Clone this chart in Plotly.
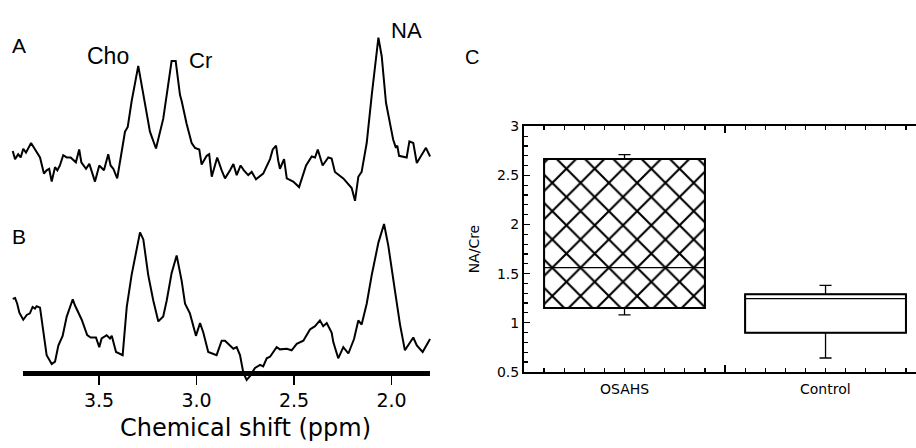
import plotly.graph_objects as go

# ---------------- data ----------------
# Spectrum A: chemical shift (ppm) and intensity (arbitrary units)
ppm_a = [3.944, 3.932, 3.916, 3.903, 3.890, 3.876, 3.850, 3.830, 3.804, 3.784,
         3.770, 3.757, 3.744, 3.727, 3.715, 3.702, 3.685, 3.667, 3.647, 3.620,
         3.603, 3.592, 3.568, 3.551, 3.522, 3.500, 3.476, 3.454, 3.442, 3.428,
         3.421, 3.408, 3.390, 3.368, 3.354, 3.334, 3.300, 3.266, 3.240, 3.209,
         3.172, 3.154, 3.129, 3.108, 3.086, 3.077, 3.052, 3.026, 3.009, 2.987,
         2.975, 2.949, 2.936, 2.923, 2.895, 2.872, 2.855, 2.829, 2.812, 2.795,
         2.775, 2.758, 2.736, 2.718, 2.696, 2.659, 2.624, 2.610, 2.593, 2.582,
         2.573, 2.552, 2.538, 2.505, 2.475, 2.439, 2.410, 2.393, 2.379, 2.354,
         2.325, 2.308, 2.291, 2.248, 2.205, 2.188, 2.171, 2.154, 2.128, 2.102,
         2.068, 2.051, 2.029, 2.005, 1.992, 1.978, 1.971, 1.962, 1.923, 1.909,
         1.889, 1.871, 1.846, 1.824, 1.803]
int_a = [61.7, 53.3, 58.3, 55.0, 64.0, 60.0, 70.0, 63.3, 55.0, 38.3,
         41.7, 43.3, 30.0, 45.0, 41.7, 46.7, 57.3, 55.0, 55.0, 50.0,
         63.3, 50.0, 43.3, 48.3, 30.0, 46.7, 41.7, 58.3, 46.7, 43.3,
         40.0, 33.3, 55.0, 81.7, 86.7, 113.3, 150.0, 113.3, 81.7, 64.3,
         95.0, 120.0, 155.0, 155.0, 120.0, 113.3, 90.0, 70.0, 65.0, 63.3,
         47.7, 56.7, 58.3, 35.0, 55.0, 41.7, 33.3, 41.7, 48.3, 36.7,
         46.7, 41.7, 36.7, 40.0, 32.3, 38.3, 53.3, 63.3, 67.3, 51.7,
         43.3, 53.3, 33.3, 30.0, 24.3, 46.7, 56.0, 55.0, 63.3, 46.7,
         55.0, 54.0, 40.0, 33.3, 23.3, 10.0, 35.0, 40.0, 70.0, 120.0,
         179.3, 160.0, 111.7, 86.7, 73.3, 65.0, 67.3, 56.7, 55.0, 71.7,
         70.0, 49.3, 58.3, 65.0, 56.0]

# Spectrum B
ppm_b = [3.944, 3.932, 3.921, 3.910, 3.890, 3.872, 3.856, 3.842, 3.830, 3.821,
         3.804, 3.787, 3.770, 3.744, 3.727, 3.710, 3.688, 3.667, 3.636, 3.625,
         3.590, 3.562, 3.544, 3.517, 3.500, 3.488, 3.462, 3.445, 3.436, 3.414,
         3.394, 3.380, 3.359, 3.334, 3.291, 3.274, 3.249, 3.223, 3.197, 3.172,
         3.154, 3.129, 3.103, 3.077, 3.060, 3.035, 3.004, 2.983, 2.966, 2.941,
         2.898, 2.872, 2.855, 2.812, 2.795, 2.778, 2.761, 2.744, 2.727, 2.701,
         2.675, 2.659, 2.641, 2.624, 2.590, 2.573, 2.538, 2.513, 2.487, 2.453,
         2.419, 2.393, 2.368, 2.351, 2.333, 2.308, 2.299, 2.274, 2.248, 2.222,
         2.193, 2.171, 2.154, 2.128, 2.102, 2.068, 2.039, 2.017, 1.983, 1.957,
         1.932, 1.909, 1.889, 1.871, 1.841, 1.803]
int_b = [88.3, 89.3, 83.3, 74.0, 66.7, 71.7, 73.3, 80.0, 78.3, 80.7,
         79.3, 53.3, 30.0, 20.7, 23.3, 40.0, 50.0, 70.0, 88.0, 81.7,
         66.7, 50.7, 48.3, 48.3, 38.3, 47.3, 50.7, 47.3, 50.0, 33.3,
         31.7, 30.0, 80.0, 113.3, 157.3, 150.0, 113.3, 86.7, 65.0, 70.0,
         86.7, 115.0, 133.3, 106.7, 83.3, 73.3, 50.0, 63.3, 53.3, 33.3,
         30.0, 45.0, 45.0, 36.7, 38.3, 30.0, 11.7, 4.3, 8.3, 16.7,
         20.0, 18.3, 26.7, 28.3, 38.3, 36.0, 36.7, 35.0, 41.7, 45.0,
         56.7, 60.0, 66.0, 60.0, 63.3, 53.3, 43.3, 26.7, 38.3, 31.7,
         46.7, 66.0, 61.7, 83.3, 113.3, 146.7, 166.0, 143.3, 96.7, 61.7,
         35.0, 41.7, 48.3, 40.0, 33.3, 46.7]

ppm_ticks = [3.5, 3.0, 2.5, 2.0]
ppm_tick_labels = ["3.5", "3.0", "2.5", "2.0"]

# Panel C box summary (NA/Cre)
groups = ["OSAHS", "Control"]
q1 = [1.151, 0.899]
median = [1.561, 1.246]
q3 = [2.666, 1.289]
lower = [1.080, 0.641]
upper = [2.712, 1.380]
patterns = ["x", ""]

# ---------------- layout helpers ----------------
W, H = 916, 448
def px(x):
    return x / W
def py(y):
    return (H - y) / H

BLACK = "black"
TICKFONT = "DejaVu Sans, Verdana, sans-serif"
LABELFONT = "Liberation Sans, Arial, Helvetica, sans-serif"

fig = go.Figure()

# spectra
fig.add_trace(go.Scatter(x=ppm_a, y=int_a, mode="lines", xaxis="x3", yaxis="y",
                         line=dict(color=BLACK, width=2), hoverinfo="skip"))
fig.add_trace(go.Scatter(x=ppm_b, y=int_b, mode="lines", xaxis="x3", yaxis="y2",
                         line=dict(color=BLACK, width=2), hoverinfo="skip"))
# carrier for the visible ppm axis
fig.add_trace(go.Scatter(x=[None], y=[None], mode="lines", xaxis="x", yaxis="y2",
                         hoverinfo="skip"))

# box plot panel
centers = [i + 0.5 for i in range(len(groups))]
for i, g in enumerate(groups):
    fig.add_trace(go.Bar(
        x=[centers[i]], base=[q1[i]], y=[q3[i] - q1[i]], width=[0.8],
        xaxis="x2", yaxis="y3", hoverinfo="skip",
        marker=dict(color="white", line=dict(color=BLACK, width=2),
                    pattern=dict(shape=patterns[i], fgcolor=BLACK, bgcolor="white",
                                 fgopacity=1, size=20, solidity=0.2,
                                 fillmode="overlay")),
    ))
    fig.add_trace(go.Box(
        x=[centers[i]], q1=[q1[i]], median=[median[i]], q3=[q3[i]],
        lowerfence=[lower[i]], upperfence=[upper[i]],
        width=0.8, whiskerwidth=0.075, boxpoints=False,
        fillcolor="rgba(0,0,0,0)", line=dict(color=BLACK, width=1.3),
        xaxis="x2", yaxis="y3", hoverinfo="skip",
    ))

fig.update_layout(
    width=W, height=H, margin=dict(l=0, r=0, t=0, b=0),
    paper_bgcolor="white", plot_bgcolor="rgba(0,0,0,0)",
    showlegend=False, barmode="overlay", boxmode="overlay",
    xaxis=dict(domain=[px(23), px(430)], range=[3.890, 1.803],
               anchor="free", position=py(378),
               showline=True, linewidth=5, linecolor=BLACK,
               ticks="outside", ticklen=9, tickwidth=1.5, tickcolor=BLACK,
               tickvals=ppm_ticks, ticktext=ppm_tick_labels,
               tickfont=dict(family=TICKFONT, size=19, color=BLACK),
               showgrid=False, zeroline=False),
    xaxis3=dict(domain=[px(10), px(432)], range=[3.958, 1.793], visible=False),
    yaxis=dict(domain=[py(210), py(10)], range=[0, 200], visible=False, anchor="x3"),
    yaxis2=dict(domain=[py(390), py(215)], range=[0, 175], visible=False, anchor="x3"),
    xaxis2=dict(domain=[px(524), 1.0], range=[0, 1.95], anchor="y3",
                showline=True, linewidth=2, linecolor=BLACK, mirror="ticks",
                ticks="inside", tickvals=[0, 1, 2], ticklen=7, tickwidth=1.3,
                tickcolor=BLACK, showticklabels=False,
                minor=dict(dtick=0.1, tick0=0, ticks="inside", ticklen=3.5,
                           tickwidth=1.2, tickcolor=BLACK),
                showgrid=False, zeroline=False),
    yaxis3=dict(domain=[py(377.3), py(122.67)], range=[0.5, 3], anchor="x2",
                showline=True, linewidth=2, linecolor=BLACK,
                ticks="inside", tickvals=[0.5, 1, 1.5, 2, 2.5, 3],
                ticktext=["0.5", "1", "1.5", "2", "2.5", "3"],
                ticklen=6, tickwidth=1.3, tickcolor=BLACK,
                minor=dict(dtick=0.1, tick0=0.5, ticks="inside", ticklen=3.5,
                           tickwidth=1.2, tickcolor=BLACK),
                tickfont=dict(family=TICKFONT, size=14, color=BLACK),
                title=dict(text="NA/Cre", standoff=14,
                           font=dict(family=TICKFONT, size=14, color=BLACK)),
                showgrid=False, zeroline=False),
)

def label(text, x, y, size, family=LABELFONT, xref="paper"):
    fig.add_annotation(text=text, x=x, y=y, xref=xref, yref="paper",
                       showarrow=False, xanchor="center", yanchor="middle",
                       font=dict(family=family, size=size, color=BLACK))

label("A", px(19), py(39), 21)
label("Cho", px(107.5), py(50), 23)
label("Cr", px(200.5), py(54), 22)
label("NA", px(406.5), py(23.5), 22)
label("B", px(19), py(237), 21)
label("C", px(472), py(51), 20)
label("Chemical shift (ppm)", px(245), py(436), 24, family=TICKFONT)
for i, g in enumerate(groups):
    label(g, centers[i], py(395), 14, family=TICKFONT, xref="x2")

fig.write_html(
    "out.html",
    config={"displayModeBar": False, "staticPlot": True},
    post_script="document.body.style.margin='0';document.body.style.padding='0';",
)
